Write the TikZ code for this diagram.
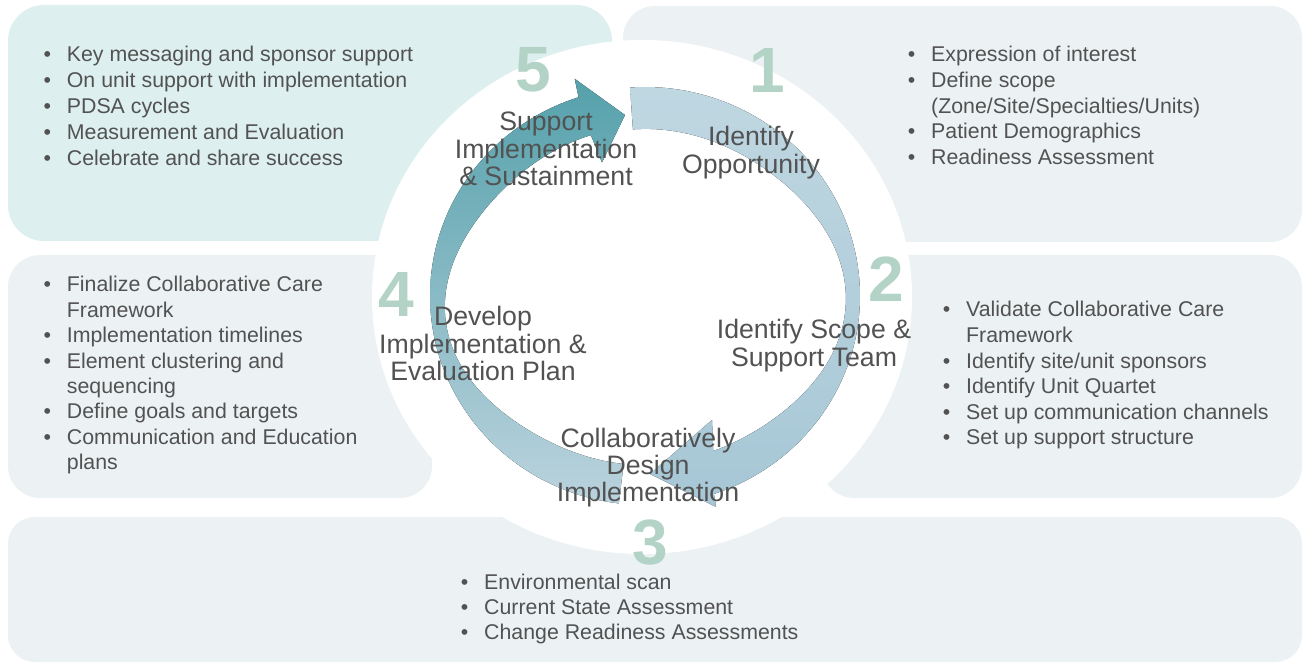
\documentclass[tikz,border=0pt]{standalone}
\usepackage{fontspec}
\setmainfont{Liberation Sans}
\definecolor{tealpanel}{HTML}{DDEFEF}
\definecolor{graypanel}{HTML}{ECF2F4}
\definecolor{txt}{HTML}{525252}
\definecolor{numc}{HTML}{B3D3C6}
\definecolor{arwAtop}{HTML}{BFD7E1}
\definecolor{arwAbot}{HTML}{A7C7D6}
\definecolor{arwBtop}{HTML}{55A1AB}
\definecolor{arwBmid}{HTML}{88C3CC}
\definecolor{arwBbot}{HTML}{BBD3DE}
% bullet list: line skip, items
\newcommand\bulletlist[2]{\parbox[t]{330pt}{\fontsize{16}{#1}\selectfont\raggedright\leftskip=17.5pt\parindent=0pt #2}}
\newcommand\itm{\par\noindent\llap{\makebox[17.5pt][l]{\textbullet}}}
% centred step label
\newcommand\steplabel[1]{\parbox[t]{220pt}{\centering\fontsize{20}{20.6}\selectfont #1}}
\begin{document}
\begin{tikzpicture}[x=0.75pt,y=-0.75pt,
  declare function={
    wa(\t)=14+28*(1-exp(-((\t-362)/38)*((\t-362)/38)));
    wb(\t)=14+26*(1-exp(-((\t-172)/35)*((\t-172)/35)));
  },
  lst/.style={text=txt, inner sep=0pt, anchor=base west},
  lbl/.style={text=txt, inner sep=0pt, anchor=base},
  num/.style={text=numc, inner sep=0pt, anchor=center,
    font=\fontsize{48}{48}\selectfont\bfseries}]
\useasboundingbox (0,0) rectangle (1306,666);
\fill[white] (0,0) rectangle (1306,666);

% background panels
\fill[tealpanel, rounded corners=27pt] (8,5) rectangle (612,241);
\fill[graypanel, rounded corners=24pt] (623,6) rectangle (1302,242);
\fill[graypanel, rounded corners=24pt] (8,255) rectangle (432,498);
\fill[graypanel, rounded corners=24pt] (822,255) rectangle (1302,498);
\fill[graypanel, rounded corners=20pt] (8,517) rectangle (1302,662);
% white disc behind the cycle
\fill[white] (642,297) ellipse [x radius=270, y radius=257];

% arrow from step 1 round to step 3
\fill[top color=arwAtop, bottom color=arwAbot]
  plot[domain=266:431.3, samples=90]
    ({645+215*cos(\x)},{296+209*sin(\x)})
  -- (716,507) -- (650,474) -- (712,420)
  -- plot[domain=427:266, samples=90]
    ({645+(215-wa(\x))*cos(\x)},{296+(209-wa(\x))*sin(\x)})
  -- cycle;

% arrow from step 3 round to step 5
\fill[top color=arwBtop, middle color=arwBmid, bottom color=arwBbot]
  plot[domain=97:252, samples=90]
    ({645+215*cos(\x)},{296+209*sin(\x)})
  -- (574.7,78.8) -- (625,115) -- (602,162.5)
  -- plot[domain=252:97, samples=90]
    ({645+(215-wb(\x))*cos(\x)},{296+(209-wb(\x))*sin(\x)})
  -- cycle;

% step numbers
\node[num] (num5) at (533,70) {5};
\node[num] (num1) at (767,70) {1};
\node[num] (num2) at (886,279) {2};
\node[num] (num3) at (650,543) {3};
\node[num] (num4) at (396,294) {4};

% step labels
\node[lbl] (lab5) at (546,131) {\steplabel{Support\\Implementation\\\& Sustainment}};
\node[lbl] (lab1) at (751,146) {\steplabel{Identify\\Opportunity}};
\node[lbl] (lab2) at (814,339) {\steplabel{Identify Scope \&\\Support Team}};
\node[lbl] (lab3) at (648,447) {\steplabel{Collaboratively\\Design\\Implementation}};
\node[lbl] (lab4) at (483,326) {\steplabel{Develop\\Implementation \&\\Evaluation Plan}};

% activity lists
\node[lst] (list5) at (43.3,62) {\bulletlist{19.5pt}{%
  \itm Key messaging and sponsor support
  \itm On unit support with implementation
  \itm PDSA cycles
  \itm Measurement and Evaluation
  \itm Celebrate and share success}};
\node[lst] (list1) at (907.6,62) {\bulletlist{19.2pt}{%
  \itm Expression of interest
  \itm Define scope\\(Zone/Site/Specialties/Units)
  \itm Patient Demographics
  \itm Readiness Assessment}};
\node[lst] (list4) at (43.3,292) {\bulletlist{19.05pt}{%
  \itm Finalize Collaborative Care\\Framework
  \itm Implementation timelines
  \itm Element clustering and\\sequencing
  \itm Define goals and targets
  \itm Communication and Education\\plans}};
\node[lst] (list2) at (942.6,317) {\bulletlist{19.2pt}{%
  \itm Validate Collaborative Care\\Framework
  \itm Identify site/unit sponsors
  \itm Identify Unit Quartet
  \itm Set up communication channels
  \itm Set up support structure}};
\node[lst] (list3) at (460.6,589) {\bulletlist{19.1pt}{%
  \itm Environmental scan
  \itm Current State Assessment
  \itm Change Readiness Assessments}};
\end{tikzpicture}
\end{document}
